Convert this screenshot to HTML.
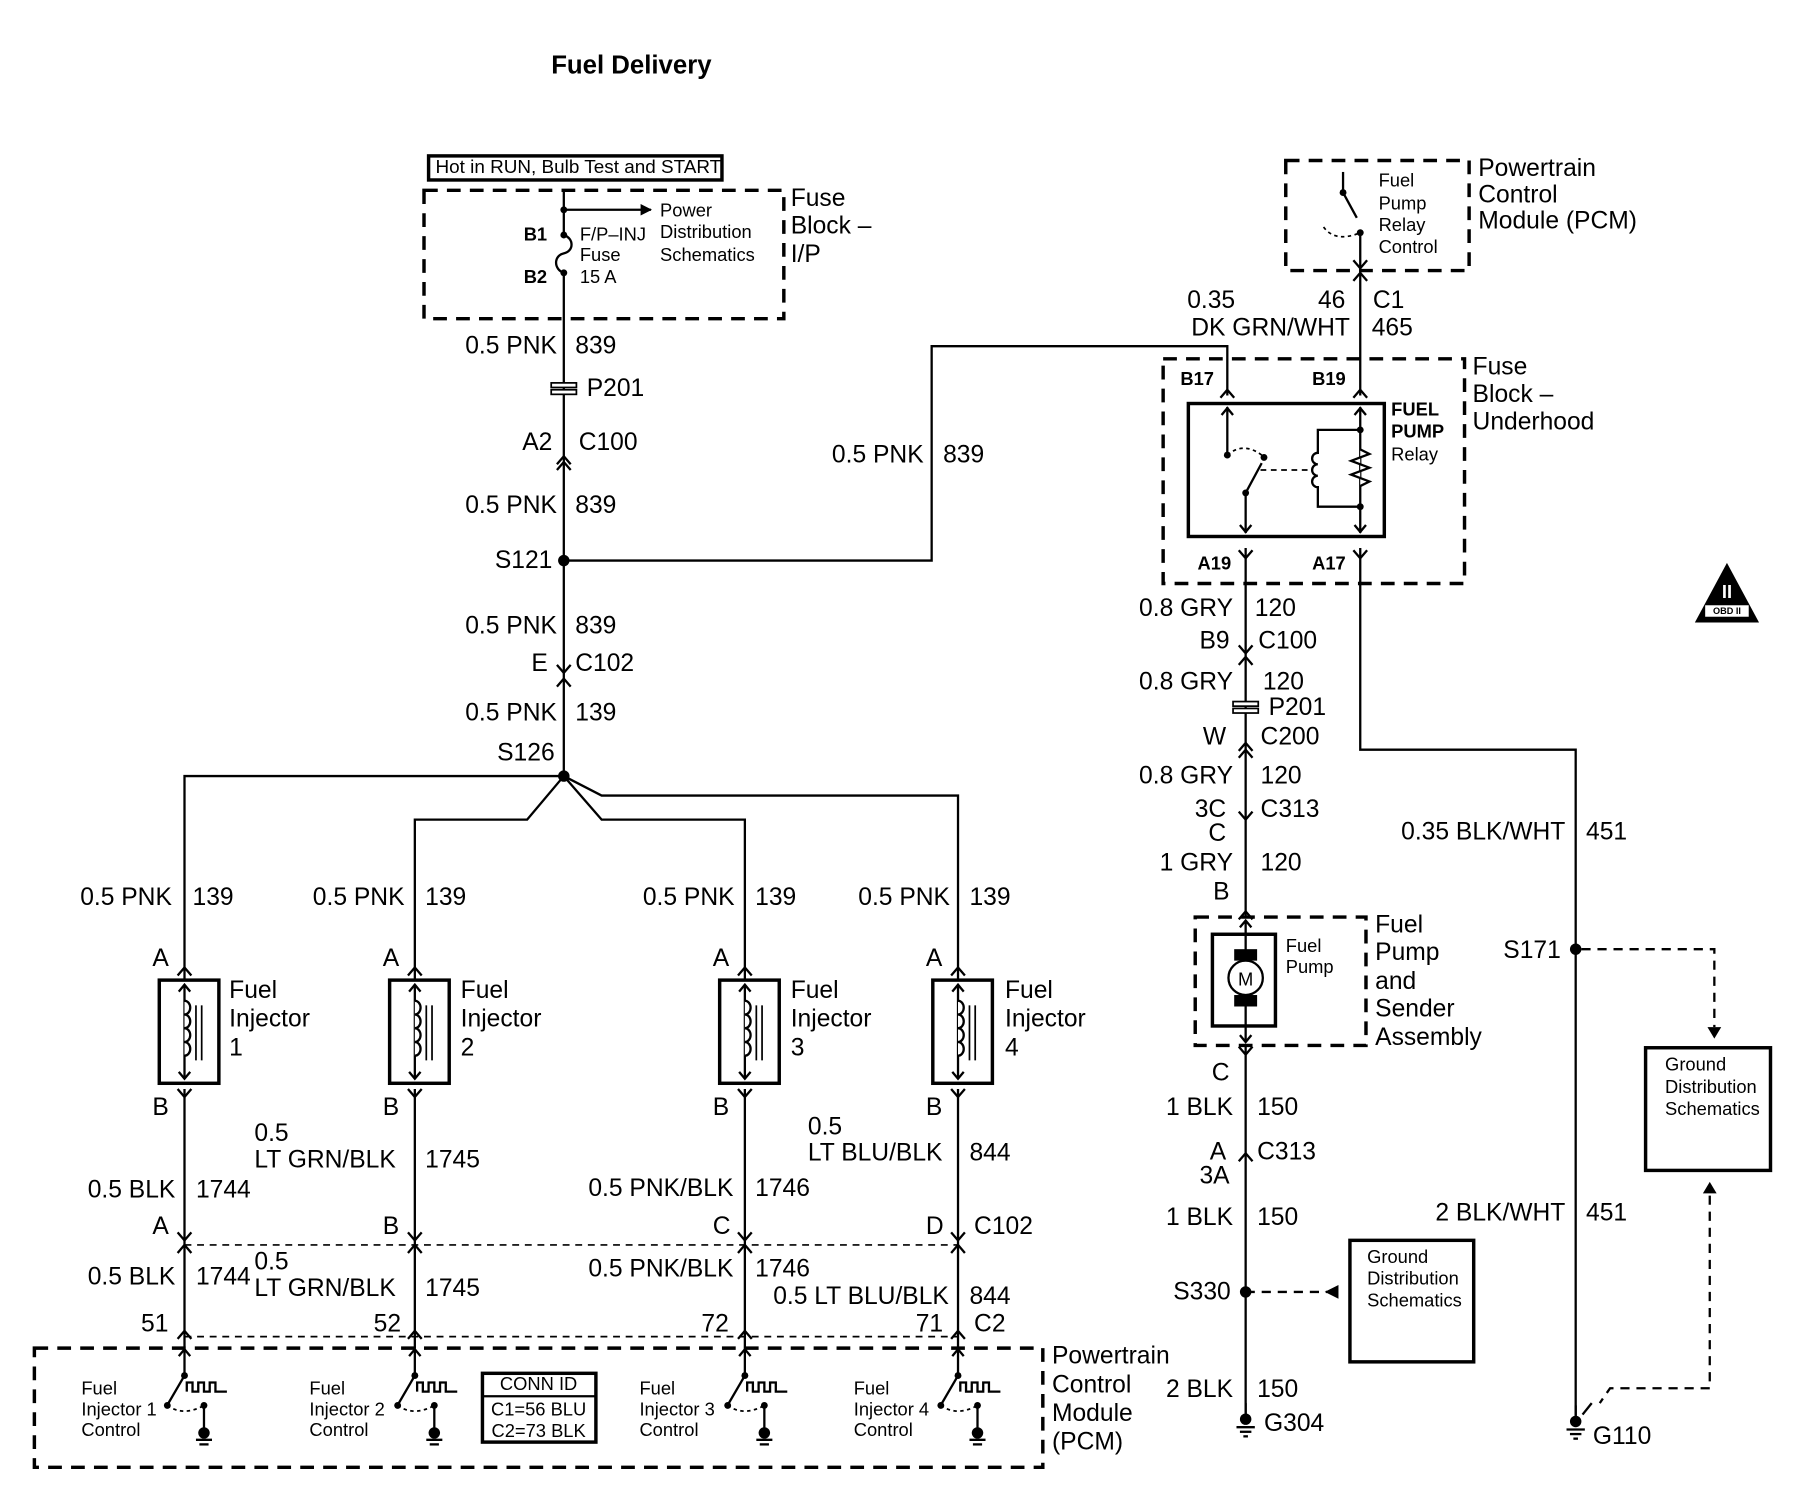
<!DOCTYPE html>
<html><head><meta charset="utf-8"><style>
html,body{margin:0;padding:0;background:#fff}
svg{display:block}
text{font-family:"Liberation Sans",Arial,sans-serif;fill:#000;dominant-baseline:central}
.t{font-size:21.5px}.s{font-size:16px}.r{text-anchor:end}
</style></head><body>
<svg width="1798" height="1504" viewBox="0 0 1569 1312" preserveAspectRatio="none" xmlns="http://www.w3.org/2000/svg">
<defs>
<marker id="ah" markerWidth="10" markerHeight="10" refX="9" refY="5" orient="auto" markerUnits="userSpaceOnUse"><path d="M0,0 L10,5 L0,10 z" fill="#000"/></marker>
<g id="chev"><path d="M-6,5 L0,-2 L6,5" fill="none" stroke="#000" stroke-width="2"/></g>
<g id="chevd"><path d="M-6,-5 L0,2 L6,-5" fill="none" stroke="#000" stroke-width="2"/></g>
<g id="gnd"><circle cx="0" cy="0" r="5" fill="#000"/><line x1="0" y1="-14" x2="0" y2="0" stroke="#000" stroke-width="2"/><line x1="-8" y1="7" x2="8" y2="7" stroke="#000" stroke-width="2"/><line x1="-5" y1="11" x2="5" y2="11" stroke="#000" stroke-width="2"/><line x1="-2" y1="15" x2="2" y2="15" stroke="#000" stroke-width="2"/></g>
<g id="inj">
<rect x="-22" y="0" width="52" height="90" fill="none" stroke="#000" stroke-width="3"/>
<line x1="0" y1="4" x2="0" y2="86" stroke="#000" stroke-width="2"/>
<path d="M-5,10 L0,4 L5,10 M-5,80 L0,86 L5,80" fill="none" stroke="#000" stroke-width="2"/>
<path d="M0,18 a5,6 0 0 1 0,12 a5,6 0 0 1 0,12 a5,6 0 0 1 0,12 a5,6 0 0 1 0,12" fill="#fff" stroke="#000" stroke-width="2"/>
<line x1="10" y1="22" x2="10" y2="70" stroke="#000" stroke-width="1.5"/>
<line x1="15" y1="22" x2="15" y2="70" stroke="#000" stroke-width="1.5"/>
<path d="M0,-10 L0,0" stroke="#000" stroke-width="2"/>
</g>
<g id="ctl">
<line x1="0" y1="0" x2="0" y2="24" stroke="#000" stroke-width="2"/>
<path d="M-5,7 L0,1 L5,7" fill="none" stroke="#000" stroke-width="2"/>
<circle cx="0" cy="24" r="3" fill="#000"/>
<line x1="0" y1="24" x2="-14" y2="48" stroke="#000" stroke-width="2"/>
<circle cx="-15" cy="50" r="3" fill="#000"/>
<path d="M-15,50 q14,10 32,0" fill="none" stroke="#000" stroke-width="1.5" stroke-dasharray="3,3"/>
<circle cx="17" cy="50" r="3" fill="#000"/>
<line x1="17" y1="50" x2="17" y2="72" stroke="#000" stroke-width="2"/>
<circle cx="17" cy="74" r="5" fill="#000"/>
<line x1="10" y1="80" x2="24" y2="80" stroke="#000" stroke-width="2"/><line x1="13" y1="84" x2="21" y2="84" stroke="#000" stroke-width="2"/>
<path d="M2,38 v-8 h5 v8 h5 v-8 h5 v8 h5 v-8 h5 v8 h10" fill="none" stroke="#000" stroke-width="2"/>
</g>
</defs>
<text x="481" y="57" style="font-size:22.5px;font-weight:bold">Fuel Delivery</text>

<rect x="374" y="136" width="256" height="21" fill="none" stroke="#000" stroke-width="3"/>
<text x="380" y="146" style="font-size:16.5px">Hot in RUN, Bulb Test and START</text>
<rect x="370" y="166" width="314" height="112" fill="none" stroke="#000" stroke-width="3" stroke-dasharray="12,8"/>
<text class="t" x="690" y="173">Fuse</text><text class="t" x="690" y="197">Block –</text><text class="t" x="690" y="222">I/P</text>
<line x1="492" y1="166" x2="492" y2="205" stroke="#000" stroke-width="2"/>
<path d="M492,205 c9,3 9,14 0,16 c-9,2 -9,14 0,17" fill="none" stroke="#000" stroke-width="2"/>
<line x1="492" y1="238" x2="492" y2="677" stroke="#000" stroke-width="2"/>
<circle cx="492" cy="183" r="3" fill="#000"/><circle cx="492" cy="205" r="3" fill="#000"/><circle cx="492" cy="238" r="3" fill="#000"/>
<line x1="492" y1="183" x2="568" y2="183" stroke="#000" stroke-width="2" marker-end="url(#ah)"/>
<text class="s" x="576" y="183">Power</text><text class="s" x="576" y="202">Distribution</text><text class="s" x="576" y="222">Schematics</text>
<text class="s" x="457" y="204" style="font-weight:bold">B1</text><text class="s" x="457" y="241" style="font-weight:bold">B2</text>
<text class="s" x="506" y="204">F/P–INJ</text><text class="s" x="506" y="222">Fuse</text><text class="s" x="506" y="241">15 A</text>
<text class="t r" x="486" y="302">0.5 PNK</text><text class="t" x="502" y="302">839</text>
<rect x="481" y="334" width="22" height="4" fill="#fff" stroke="#000" stroke-width="1.5"/><rect x="481" y="340" width="22" height="4" fill="#fff" stroke="#000" stroke-width="1.5"/>
<text class="t" x="512" y="339">P201</text>
<text class="t r" x="482" y="386">A2</text><text class="t" x="505" y="386">C100</text>
<use href="#chev" x="492" y="400"/><use href="#chev" x="492" y="405"/>
<text class="t r" x="486" y="441">0.5 PNK</text><text class="t" x="502" y="441">839</text>
<circle cx="492" cy="489" r="5" fill="#000"/><text class="t r" x="482" y="489">S121</text>
<path d="M492,489 H813 V302 H1071 V345" fill="none" stroke="#000" stroke-width="2"/>
<text class="t r" x="806" y="397">0.5 PNK</text><text class="t" x="823" y="397">839</text>
<text class="t r" x="486" y="546">0.5 PNK</text><text class="t" x="502" y="546">839</text>
<text class="t r" x="478" y="579">E</text><text class="t" x="502" y="579">C102</text>
<use href="#chevd" x="492" y="585"/><use href="#chev" x="492" y="594"/>
<text class="t r" x="486" y="622">0.5 PNK</text><text class="t" x="502" y="622">139</text>
<text class="t r" x="484" y="657">S126</text>
<circle cx="492" cy="677" r="5" fill="#000"/>
<path d="M492,677 H161 V845 M492,677 L460,715 H362 V845 M492,677 L525,715 H650 V845 M492,677 L525,694 H836 V845" fill="none" stroke="#000" stroke-width="2"/>

<text class="t r" x="150" y="783">0.5 PNK</text><text class="t" x="168" y="783">139</text>
<text class="t r" x="353" y="783">0.5 PNK</text><text class="t" x="371" y="783">139</text>
<text class="t r" x="641" y="783">0.5 PNK</text><text class="t" x="659" y="783">139</text>
<text class="t r" x="829" y="783">0.5 PNK</text><text class="t" x="846" y="783">139</text>
<text class="t" x="133" y="836">A</text><text class="t" x="334" y="836">A</text><text class="t" x="622" y="836">A</text><text class="t" x="808" y="836">A</text>
<text class="t" x="133" y="966">B</text><text class="t" x="334" y="966">B</text><text class="t" x="622" y="966">B</text><text class="t" x="808" y="966">B</text>
<use href="#chev" x="161" y="846"/><use href="#chev" x="362" y="846"/><use href="#chev" x="650" y="846"/><use href="#chev" x="836" y="846"/>
<use href="#inj" x="161" y="855"/><use href="#inj" x="362" y="855"/><use href="#inj" x="650" y="855"/><use href="#inj" x="836" y="855"/>
<use href="#chevd" x="161" y="955"/><use href="#chevd" x="362" y="955"/><use href="#chevd" x="650" y="955"/><use href="#chevd" x="836" y="955"/>
<text class="t" x="200" y="864">Fuel</text><text class="t" x="200" y="889">Injector</text><text class="t" x="200" y="914">1</text>
<text class="t" x="402" y="864">Fuel</text><text class="t" x="402" y="889">Injector</text><text class="t" x="402" y="914">2</text>
<text class="t" x="690" y="864">Fuel</text><text class="t" x="690" y="889">Injector</text><text class="t" x="690" y="914">3</text>
<text class="t" x="877" y="864">Fuel</text><text class="t" x="877" y="889">Injector</text><text class="t" x="877" y="914">4</text>
<path d="M161,950 V1176 M362,950 V1176 M650,950 V1176 M836,950 V1176" stroke="#000" stroke-width="2"/>
<text class="t r" x="153" y="1038">0.5 BLK</text><text class="t" x="171" y="1038">1744</text>
<text class="t" x="222" y="989">0.5</text><text class="t" x="222" y="1012">LT GRN/BLK</text><text class="t" x="371" y="1012">1745</text>
<text class="t r" x="640" y="1037">0.5 PNK/BLK</text><text class="t" x="659" y="1037">1746</text>
<text class="t" x="705" y="983">0.5</text><text class="t" x="705" y="1006">LT BLU/BLK</text><text class="t" x="846" y="1006">844</text>
<text class="t" x="133" y="1070">A</text><text class="t" x="334" y="1070">B</text><text class="t" x="622" y="1070">C</text><text class="t" x="808" y="1070">D</text><text class="t" x="850" y="1070">C102</text>
<line x1="161" y1="1086" x2="836" y2="1086" stroke="#000" stroke-width="1.5" stroke-dasharray="6,5"/>
<use href="#chevd" x="161" y="1080"/><use href="#chev" x="161" y="1088"/><use href="#chevd" x="362" y="1080"/><use href="#chev" x="362" y="1088"/>
<use href="#chevd" x="650" y="1080"/><use href="#chev" x="650" y="1088"/><use href="#chevd" x="836" y="1080"/><use href="#chev" x="836" y="1088"/>
<text class="t r" x="153" y="1114">0.5 BLK</text><text class="t" x="171" y="1114">1744</text>
<text class="t" x="222" y="1101">0.5</text><text class="t" x="222" y="1124">LT GRN/BLK</text><text class="t" x="371" y="1124">1745</text>
<text class="t r" x="640" y="1107">0.5 PNK/BLK</text><text class="t" x="659" y="1107">1746</text>
<text class="t r" x="828" y="1131">0.5 LT BLU/BLK</text><text class="t" x="846" y="1131">844</text>
<text class="t r" x="147" y="1155">51</text><text class="t r" x="350" y="1155">52</text><text class="t r" x="636" y="1155">72</text><text class="t r" x="823" y="1155">71</text><text class="t" x="850" y="1155">C2</text>
<line x1="161" y1="1166" x2="836" y2="1166" stroke="#000" stroke-width="1.5" stroke-dasharray="6,5"/>
<use href="#chev" x="161" y="1163"/><use href="#chev" x="362" y="1163"/><use href="#chev" x="650" y="1163"/><use href="#chev" x="836" y="1163"/>
<rect x="30" y="1176" width="880" height="104" fill="none" stroke="#000" stroke-width="3" stroke-dasharray="12,8"/>
<text class="t" x="918" y="1183">Powertrain</text><text class="t" x="918" y="1208">Control</text><text class="t" x="918" y="1233">Module</text><text class="t" x="918" y="1258">(PCM)</text>
<use href="#ctl" x="161" y="1176"/><use href="#ctl" x="362" y="1176"/><use href="#ctl" x="650" y="1176"/><use href="#ctl" x="836" y="1176"/>
<text class="s" x="71" y="1211">Fuel</text><text class="s" x="71" y="1229">Injector 1</text><text class="s" x="71" y="1247">Control</text>
<text class="s" x="270" y="1211">Fuel</text><text class="s" x="270" y="1229">Injector 2</text><text class="s" x="270" y="1247">Control</text>
<text class="s" x="558" y="1211">Fuel</text><text class="s" x="558" y="1229">Injector 3</text><text class="s" x="558" y="1247">Control</text>
<text class="s" x="745" y="1211">Fuel</text><text class="s" x="745" y="1229">Injector 4</text><text class="s" x="745" y="1247">Control</text>
<rect x="421" y="1198" width="99" height="60" fill="none" stroke="#000" stroke-width="3"/>
<line x1="421" y1="1218" x2="520" y2="1218" stroke="#000" stroke-width="2"/>
<text class="s" x="470" y="1207" text-anchor="middle">CONN ID</text>
<text class="s" x="470" y="1229" text-anchor="middle">C1=56 BLU</text>
<text class="s" x="470" y="1248" text-anchor="middle">C2=73 BLK</text>

<rect x="1122" y="140" width="160" height="96" fill="none" stroke="#000" stroke-width="3" stroke-dasharray="12,8"/>
<text class="t" x="1290" y="147">Powertrain</text><text class="t" x="1290" y="170">Control</text><text class="t" x="1290" y="193">Module (PCM)</text>
<text class="s" x="1203" y="157">Fuel</text><text class="s" x="1203" y="177">Pump</text><text class="s" x="1203" y="196">Relay</text><text class="s" x="1203" y="215">Control</text>
<line x1="1172" y1="150" x2="1172" y2="168" stroke="#000" stroke-width="2"/><circle cx="1172" cy="168" r="3" fill="#000"/>
<line x1="1172" y1="168" x2="1184" y2="190" stroke="#000" stroke-width="2"/>
<path d="M1155,198 q10,14 32,5" fill="none" stroke="#000" stroke-width="1.5" stroke-dasharray="3,3"/>
<circle cx="1187" cy="203" r="3" fill="#000"/>
<line x1="1187" y1="203" x2="1187" y2="345" stroke="#000" stroke-width="2"/>
<use href="#chevd" x="1187" y="232"/><use href="#chev" x="1187" y="240"/>
<text class="t" x="1036" y="262">0.35</text><text class="t r" x="1174" y="262">46</text><text class="t" x="1198" y="262">C1</text>
<text class="t r" x="1178" y="286">DK GRN/WHT</text><text class="t" x="1197" y="286">465</text>
<rect x="1015" y="313" width="263" height="196" fill="none" stroke="#000" stroke-width="3" stroke-dasharray="12,8"/>
<text class="t" x="1285" y="320">Fuse</text><text class="t" x="1285" y="344">Block –</text><text class="t" x="1285" y="368">Underhood</text>
<text class="s" x="1030" y="330" style="font-weight:bold">B17</text><text class="s" x="1145" y="330" style="font-weight:bold">B19</text>
<use href="#chev" x="1071" y="342"/><use href="#chev" x="1187" y="342"/>
<rect x="1037" y="352" width="171" height="116" fill="none" stroke="#000" stroke-width="3"/>
<text class="s" x="1214" y="357" style="font-weight:bold">FUEL</text><text class="s" x="1214" y="376" style="font-weight:bold">PUMP</text><text class="s" x="1214" y="396">Relay</text>
<line x1="1071" y1="355" x2="1071" y2="397" stroke="#000" stroke-width="2"/><path d="M1066,362 L1071,356 L1076,362" fill="none" stroke="#000" stroke-width="2"/>
<circle cx="1071" cy="397" r="3" fill="#000"/>
<path d="M1071,397 q14,-12 30,0" fill="none" stroke="#000" stroke-width="1.5" stroke-dasharray="3,3"/>
<circle cx="1103" cy="399" r="3" fill="#000"/>
<line x1="1087" y1="430" x2="1101" y2="404" stroke="#000" stroke-width="2"/>
<circle cx="1087" cy="430" r="3" fill="#000"/>
<line x1="1087" y1="430" x2="1087" y2="465" stroke="#000" stroke-width="2"/><path d="M1082,458 L1087,464 L1092,458" fill="none" stroke="#000" stroke-width="2"/>
<line x1="1100" y1="410" x2="1142" y2="410" stroke="#000" stroke-width="1.5" stroke-dasharray="5,4"/>
<path d="M1187,355 V465 M1182,362 L1187,356 L1192,362 M1182,458 L1187,464 L1192,458" fill="none" stroke="#000" stroke-width="2"/>
<path d="M1187,375 H1150 V395 a5,5 0 0 0 0,10 a5,5 0 0 0 0,10 a5,5 0 0 0 0,10 V442 H1187" fill="none" stroke="#000" stroke-width="2"/>
<path d="M1187,392 l8,4 l-16,6 l16,6 l-16,6 l16,6 l-8,4" fill="#fff" stroke="#000" stroke-width="2"/>
<circle cx="1187" cy="375" r="3" fill="#000"/><circle cx="1187" cy="442" r="3" fill="#000"/>
<use href="#chevd" x="1087" y="485"/><use href="#chevd" x="1187" y="485"/>
<text class="s" x="1045" y="491" style="font-weight:bold">A19</text><text class="s" x="1145" y="491" style="font-weight:bold">A17</text>
<line x1="1087" y1="478" x2="1087" y2="800" stroke="#000" stroke-width="2"/>
<text class="t r" x="1076" y="531">0.8 GRY</text><text class="t" x="1095" y="531">120</text>
<text class="t r" x="1073" y="559">B9</text><text class="t" x="1098" y="559">C100</text>
<use href="#chevd" x="1087" y="568"/><use href="#chev" x="1087" y="575"/>
<text class="t r" x="1076" y="595">0.8 GRY</text><text class="t" x="1102" y="595">120</text>
<rect x="1076" y="612" width="22" height="4" fill="#fff" stroke="#000" stroke-width="1.5"/><rect x="1076" y="618" width="22" height="4" fill="#fff" stroke="#000" stroke-width="1.5"/>
<text class="t" x="1107" y="617">P201</text>
<text class="t r" x="1070" y="643">W</text><text class="t" x="1100" y="643">C200</text>
<use href="#chev" x="1087" y="650"/><use href="#chev" x="1087" y="656"/>
<text class="t r" x="1076" y="677">0.8 GRY</text><text class="t" x="1100" y="677">120</text>
<text class="t r" x="1070" y="706">3C</text><text class="t" x="1100" y="706">C313</text>
<use href="#chevd" x="1087" y="713"/>
<text class="t r" x="1070" y="727">C</text>
<text class="t r" x="1076" y="753">1 GRY</text><text class="t" x="1100" y="753">120</text>
<text class="t r" x="1073" y="778">B</text>
<use href="#chev" x="1087" y="797"/>
<rect x="1043" y="800" width="149" height="112" fill="none" stroke="#000" stroke-width="3" stroke-dasharray="12,8"/>
<rect x="1058" y="815" width="55" height="80" fill="none" stroke="#000" stroke-width="3"/>
<path d="M1087,803 V838 M1087,868 V909 M1082,809 L1087,803 L1092,809 M1082,903 L1087,909 L1092,903" fill="none" stroke="#000" stroke-width="2"/>
<rect x="1077" y="828" width="20" height="10" fill="#000"/><rect x="1077" y="868" width="20" height="10" fill="#000"/>
<circle cx="1087" cy="853" r="15" fill="#fff" stroke="#000" stroke-width="2"/>
<text x="1087" y="854" text-anchor="middle" style="font-size:16px">M</text>
<text class="s" x="1122" y="825">Fuel</text><text class="s" x="1122" y="843">Pump</text>
<text class="t" x="1200" y="807">Fuel</text><text class="t" x="1200" y="831">Pump</text><text class="t" x="1200" y="856">and</text><text class="t" x="1200" y="880">Sender</text><text class="t" x="1200" y="905">Assembly</text>
<line x1="1087" y1="912" x2="1087" y2="1235" stroke="#000" stroke-width="2"/>
<use href="#chevd" x="1087" y="918"/>
<text class="t r" x="1073" y="936">C</text>
<text class="t r" x="1076" y="966">1 BLK</text><text class="t" x="1097" y="966">150</text>
<text class="t r" x="1070" y="1005">A</text><text class="t" x="1097" y="1005">C313</text>
<use href="#chev" x="1087" y="1008"/>
<text class="t r" x="1073" y="1026">3A</text>
<text class="t r" x="1076" y="1062">1 BLK</text><text class="t" x="1097" y="1062">150</text>
<circle cx="1087" cy="1127" r="5" fill="#000"/><text class="t r" x="1074" y="1127">S330</text>
<line x1="1087" y1="1127" x2="1158" y2="1127" stroke="#000" stroke-width="2" stroke-dasharray="8,6"/>
<path d="M1168,1121 L1156,1127 L1168,1133 z" fill="#000"/>
<rect x="1178" y="1082" width="108" height="106" fill="none" stroke="#000" stroke-width="3"/>
<text class="s" x="1193" y="1096">Ground</text><text class="s" x="1193" y="1115">Distribution</text><text class="s" x="1193" y="1134">Schematics</text>
<text class="t r" x="1076" y="1212">2 BLK</text><text class="t" x="1097" y="1212">150</text>
<use href="#gnd" x="1087" y="1238"/><text class="t" x="1103" y="1242">G304</text>
<path d="M1187,478 V654 H1375 V1236" fill="none" stroke="#000" stroke-width="2"/>
<text class="t r" x="1366" y="726">0.35 BLK/WHT</text><text class="t" x="1384" y="726">451</text>
<circle cx="1375" cy="828" r="5" fill="#000"/><text class="t r" x="1362" y="829">S171</text>
<path d="M1380,828 H1496 V896" fill="none" stroke="#000" stroke-width="2" stroke-dasharray="8,6"/>
<path d="M1490,896 L1496,906 L1502,896 z" fill="#000"/>
<rect x="1436" y="914" width="109" height="107" fill="none" stroke="#000" stroke-width="3"/>
<text class="s" x="1453" y="928">Ground</text><text class="s" x="1453" y="948">Distribution</text><text class="s" x="1453" y="967">Schematics</text>
<path d="M1486,1041 L1492,1031 L1498,1041 z" fill="#000"/>
<path d="M1492,1043 V1211 H1405 L1396,1224" fill="none" stroke="#000" stroke-width="2" stroke-dasharray="8,6"/>
<line x1="1381" y1="1234" x2="1389" y2="1224" stroke="#000" stroke-width="2"/>
<text class="t r" x="1366" y="1058">2 BLK/WHT</text><text class="t" x="1384" y="1058">451</text>
<use href="#gnd" x="1375" y="1240"/><text class="t" x="1390" y="1253">G110</text>
<path d="M1507,491 L1535,543 L1479,543 z" fill="#000"/>
<rect x="1488" y="528" width="38" height="10" fill="#fff"/>
<text x="1507" y="533" text-anchor="middle" style="font-size:8px;font-weight:bold">OBD II</text>
<text x="1507" y="516" text-anchor="middle" style="font-size:16px;font-weight:bold;fill:#fff">II</text>
</svg>
</body></html>
